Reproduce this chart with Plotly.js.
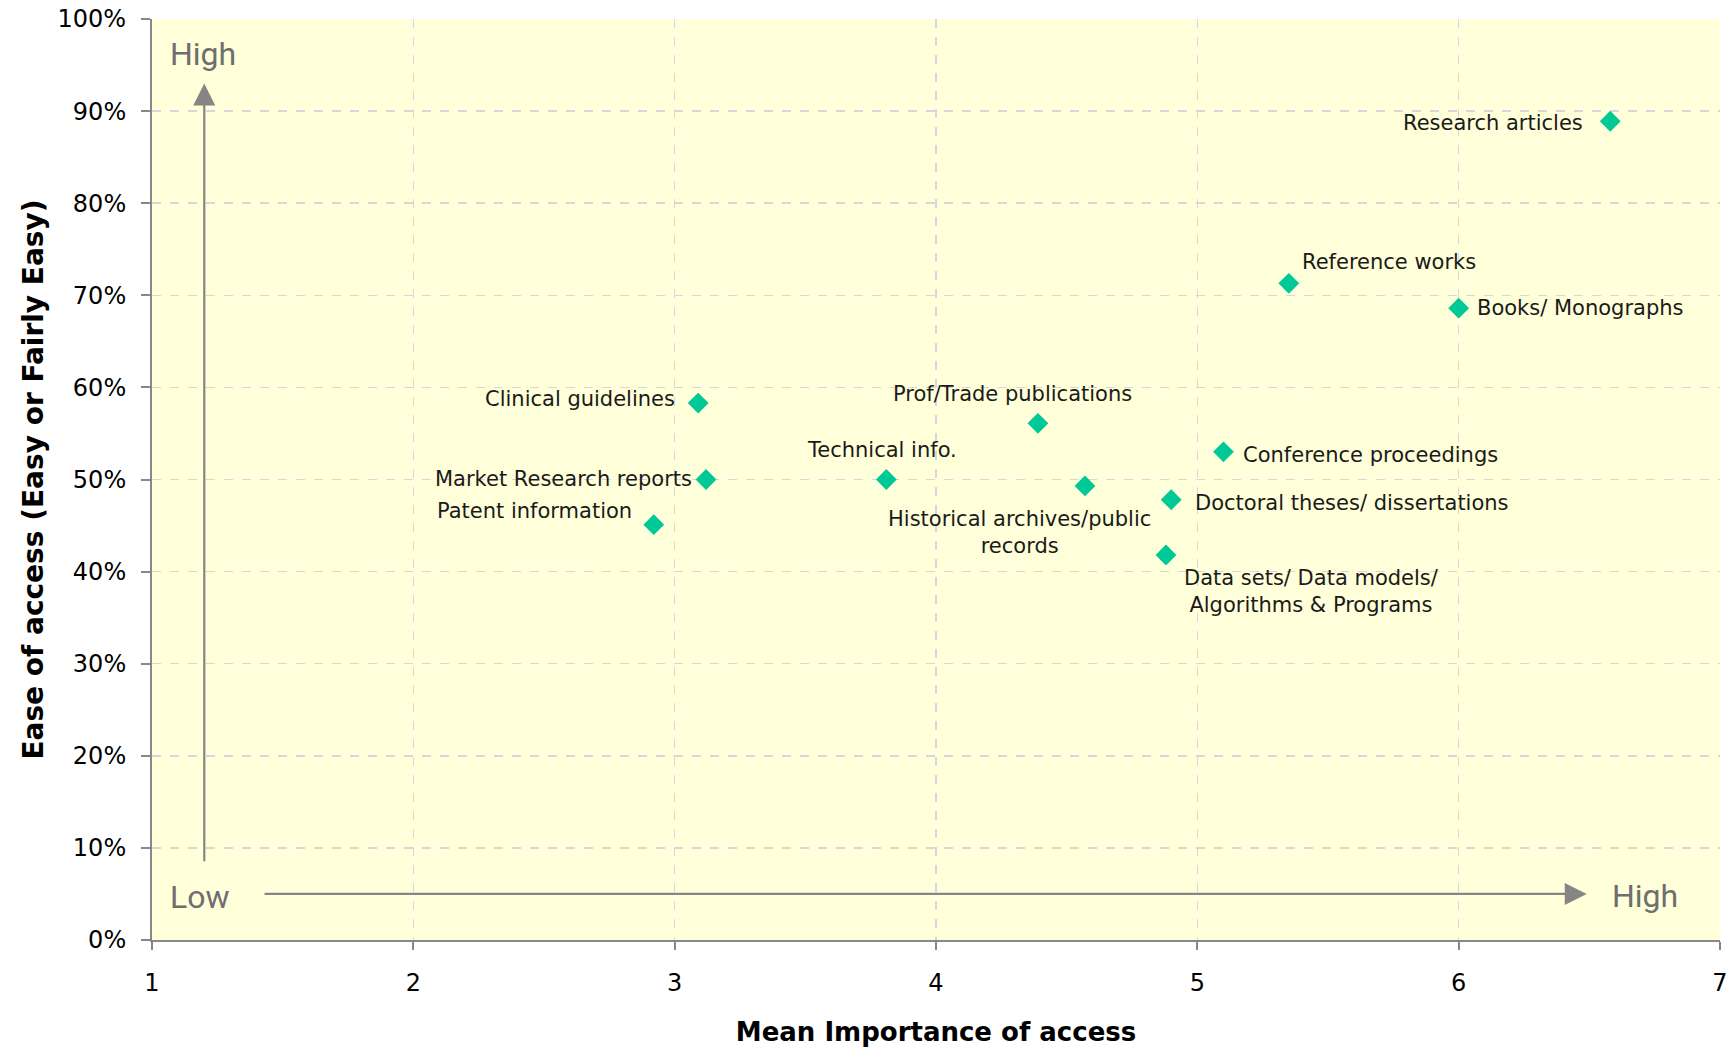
<!DOCTYPE html>
<html>
<head>
<meta charset="utf-8">
<script src="https://cdn.plot.ly/plotly-3.0.1.min.js"></script>
<style>html,body{margin:0;padding:0;background:#fff;}#chart{width:1736px;height:1047px;}</style>
</head>
<body>
<div id="chart"></div>
<script>
// ---- data ----
var categories = [
  "Research articles", "Reference works", "Books/ Monographs", "Clinical guidelines",
  "Market Research reports", "Patent information", "Technical info.", "Prof/Trade publications",
  "Historical archives/public<br>records", "Conference proceedings",
  "Doctoral theses/ dissertations", "Data sets/ Data models/<br>Algorithms & Programs"
];
var importance = [6.58, 5.35, 6.00, 3.09, 3.12, 2.92, 3.81, 4.39, 4.57, 5.10, 4.90, 4.88];
var easeOfAccess = [0.889, 0.713, 0.686, 0.583, 0.500, 0.451, 0.500, 0.561, 0.493, 0.530, 0.478, 0.418];
var xTicks = [1, 2, 3, 4, 5, 6, 7];
var yTicks = [0, 0.1, 0.2, 0.3, 0.4, 0.5, 0.6, 0.7, 0.8, 0.9, 1.0];

// ---- label placement (styles only) ----
var labelAnchor = ["right","left","left","right","right","right","center","center","center","left","left","center"];
var labelXShift = [-25, 11, 16, -21, -12, -20, -4, -25, -65, 18, 22, 146];
var labelYShift = [-2, 21, 0, 4, 1, 14, 30, 29, -47, -3, -3, -36];

var labelFont = {family: "DejaVu Sans, Verdana, sans-serif", size: 21, color: "#1a1a1a"};
var annotations = categories.map(function (c, i) {
  return {
    x: importance[i], y: easeOfAccess[i], xref: "x", yref: "y",
    text: c, showarrow: false, xanchor: labelAnchor[i], yanchor: "middle",
    xshift: labelXShift[i], yshift: labelYShift[i], align: "center",
    font: labelFont
  };
});

var arrowColor = "#858585";
var hlFont = {family: "Roboto, Open Sans, sans-serif", size: 32, color: "#6e6e6e"};
// vertical arrow
annotations.push({x: 1.2, y: 0.93, ax: 1.2, ay: 0.084, xref: "x", yref: "y", axref: "x", ayref: "y",
  text: "", showarrow: true, arrowhead: 2, arrowsize: 2, arrowwidth: 2.2, arrowcolor: arrowColor});
// horizontal arrow
annotations.push({x: 6.49, y: 0.05, ax: 1.425, ay: 0.05, xref: "x", yref: "y", axref: "x", ayref: "y",
  text: "", showarrow: true, arrowhead: 2, arrowsize: 2, arrowwidth: 2.2, arrowcolor: arrowColor});
annotations.push({x: 1.062, y: 0.962, xref: "x", yref: "y", text: "High", showarrow: false,
  xanchor: "left", yanchor: "middle", font: hlFont});
annotations.push({x: 1.062, y: 0.047, xref: "x", yref: "y", text: "Low", showarrow: false,
  xanchor: "left", yanchor: "middle", font: hlFont});
annotations.push({x: 6.578, y: 0.048, xref: "x", yref: "y", text: "High", showarrow: false,
  xanchor: "left", yanchor: "middle", font: hlFont});

var trace = {
  type: "scatter", mode: "markers",
  x: importance, y: easeOfAccess, text: categories, hoverinfo: "text",
  marker: {symbol: "diamond", size: 16, color: "#00C896", line: {width: 0}}
};

var tickFont = {family: "DejaVu Sans, Verdana, sans-serif", size: 24, color: "#000"};
var gridColor = "#d6d6dc";
var layout = {
  width: 1736, height: 1047,
  margin: {l: 152, r: 16, t: 19, b: 107},
  paper_bgcolor: "#ffffff", plot_bgcolor: "#FFFFD9",
  showlegend: false,
  xaxis: {
    range: [1, 7], tickvals: xTicks, ticktext: xTicks.map(String),
    showgrid: true, gridcolor: gridColor, gridwidth: 1.5, griddash: "dash",
    zeroline: false, showline: true, linecolor: "#888", linewidth: 2, mirror: false,
    ticks: "outside", ticklen: 8, tickcolor: "#888", tickwidth: 2,
    ticklabelstandoff: 12,
    tickfont: tickFont,
    title: {text: "<b>Mean Importance of access</b>", standoff: 28,
      font: {family: "DejaVu Sans, Verdana, sans-serif", size: 26, color: "#000"}}
  },
  yaxis: {
    range: [0, 1], tickvals: yTicks, tickformat: ".0%",
    showgrid: true, gridcolor: gridColor, gridwidth: 1.5, griddash: "dash",
    zeroline: false, showline: true, linecolor: "#888", linewidth: 2,
    ticks: "outside", ticklen: 9, tickcolor: "#888", tickwidth: 2,
    ticklabelstandoff: 10,
    tickfont: tickFont,
    title: {text: "<b>Ease of access (Easy or Fairly Easy)</b>", standoff: 6,
      font: {family: "DejaVu Sans, Verdana, sans-serif", size: 28, color: "#000"}}
  },
  annotations: annotations
};

Plotly.newPlot("chart", [trace], layout, {displayModeBar: false, staticPlot: true});
</script>
</body>
</html>
